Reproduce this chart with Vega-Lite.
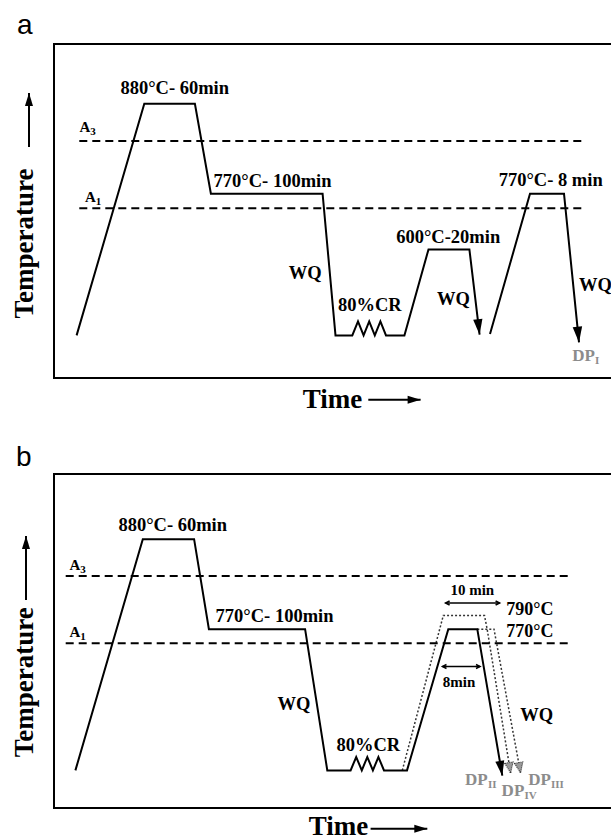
{
  "$schema": "https://vega.github.io/schema/vega-lite/v6.json",
  "padding": {"left": 9, "top": 11, "right": 0, "bottom": 0},
  "spacing": 96,
  "bounds": "flush",
  "config": {
    "view": {"stroke": "black", "strokeWidth": 2},
    "font": "Liberation Serif",
    "text": {"font": "Liberation Serif", "fontWeight": "bold", "color": "black"}
  },
  "datasets": {
    "lines_a": [
      {"p": "main", "i": 0, "t": 22.6, "T": 42.6},
      {"p": "main", "i": 1, "t": 90.3, "T": 274.2},
      {"p": "main", "i": 2, "t": 140.9, "T": 274.2},
      {"p": "main", "i": 3, "t": 156.9, "T": 184.3},
      {"p": "main", "i": 4, "t": 268.6, "T": 184.3},
      {"p": "main", "i": 5, "t": 281.5, "T": 42.6},
      {"p": "main", "i": 6, "t": 298.3, "T": 42.6},
      {"p": "main", "i": 7, "t": 304.0, "T": 56.6},
      {"p": "main", "i": 8, "t": 309.6, "T": 42.6},
      {"p": "main", "i": 9, "t": 315.2, "T": 56.6},
      {"p": "main", "i": 10, "t": 320.8, "T": 42.6},
      {"p": "main", "i": 11, "t": 326.4, "T": 56.6},
      {"p": "main", "i": 12, "t": 332.0, "T": 42.6},
      {"p": "main", "i": 13, "t": 350.4, "T": 42.6},
      {"p": "main", "i": 14, "t": 374.5, "T": 128.6},
      {"p": "main", "i": 15, "t": 415.4, "T": 128.6},
      {"p": "main", "i": 16, "t": 425.6, "T": 43.3},
      {"p": "anneal", "i": 0, "t": 436.0, "T": 44.0},
      {"p": "anneal", "i": 1, "t": 476.0, "T": 184.3},
      {"p": "anneal", "i": 2, "t": 510.0, "T": 184.3},
      {"p": "anneal", "i": 3, "t": 525.0, "T": 35.6}
    ],
    "dash_a": [
      {"name": "A3", "t": 25.3, "t2": 529.4, "T": 237.0},
      {"name": "A1", "t": 25.3, "t2": 529.4, "T": 169.8}
    ],
    "heads_a": [
      {"id": "wq1", "t": 425.6, "T": 43.3},
      {"id": "wq2", "t": 525.0, "T": 35.6}
    ],
    "temp_arrow_a": [{"t": -25.0, "T": 231.0, "T2": 285.0}],
    "time_arrow_a": [{"t": 314.3, "t2": 366.6, "T": -21.7}],
    "text_a": [
      {"role": "step", "txt": "880°C- 60min", "t": 120.7, "T": 284.0},
      {"role": "step", "txt": "WQ", "t": 251.2, "T": 98.7},
      {"role": "step", "txt": "80%CR", "t": 315.8, "T": 67.0},
      {"role": "step", "txt": "600°C-20min", "t": 394.2, "T": 134.6},
      {"role": "step", "txt": "WQ", "t": 399.5, "T": 73.3},
      {"role": "step", "txt": "770°C- 8 min", "t": 496.7, "T": 191.6},
      {"role": "stepL", "txt": "770°C- 100min", "t": 159.6, "T": 191.3},
      {"role": "stepL", "txt": "WQ", "t": 525.0, "T": 86.6},
      {"role": "crit", "txt": "A", "t": 25.6, "T": 245.6},
      {"role": "crit", "txt": "A", "t": 31.1, "T": 176.3},
      {"role": "critsub", "txt": "3", "t": 36.3, "T": 242.6},
      {"role": "critsub", "txt": "1", "t": 41.8, "T": 173.3},
      {"role": "dp", "txt": "DP", "t": 518.3, "T": 16.6},
      {"role": "dpsub", "txt": "I", "t": 541.0, "T": 14.0}
    ],
    "lines_b": [
      {"p": "main", "i": 0, "t": 21.4, "T": 37.6},
      {"p": "main", "i": 1, "t": 88.8, "T": 268.8},
      {"p": "main", "i": 2, "t": 140.1, "T": 268.8},
      {"p": "main", "i": 3, "t": 154.9, "T": 178.8},
      {"p": "main", "i": 4, "t": 251.1, "T": 178.8},
      {"p": "main", "i": 5, "t": 273.3, "T": 37.6},
      {"p": "main", "i": 6, "t": 296.6, "T": 37.6},
      {"p": "main", "i": 7, "t": 302.2, "T": 51.0},
      {"p": "main", "i": 8, "t": 307.8, "T": 37.6},
      {"p": "main", "i": 9, "t": 313.3, "T": 51.0},
      {"p": "main", "i": 10, "t": 318.9, "T": 37.6},
      {"p": "main", "i": 11, "t": 324.4, "T": 51.0},
      {"p": "main", "i": 12, "t": 330.0, "T": 37.6},
      {"p": "main", "i": 13, "t": 353.0, "T": 37.6},
      {"p": "main", "i": 14, "t": 394.3, "T": 178.8},
      {"p": "main", "i": 15, "t": 423.3, "T": 178.8},
      {"p": "main", "i": 16, "t": 448.3, "T": 32.3}
    ],
    "dots_b": [
      {"p": "790", "i": 0, "t": 348.3, "T": 37.6},
      {"p": "790", "i": 1, "t": 389.3, "T": 192.5},
      {"p": "790", "i": 2, "t": 430.5, "T": 192.5},
      {"p": "790", "i": 3, "t": 433.3, "T": 178.0},
      {"p": "790", "i": 4, "t": 456.6, "T": 35.0},
      {"p": "770x10", "i": 0, "t": 423.3, "T": 178.8},
      {"p": "770x10", "i": 1, "t": 440.0, "T": 178.8},
      {"p": "770x10", "i": 2, "t": 466.6, "T": 35.0}
    ],
    "dash_b": [
      {"name": "A3", "t": 11.7, "t2": 515.8, "T": 231.9},
      {"name": "A1", "t": 11.7, "t2": 515.8, "T": 164.7}
    ],
    "spans_b": [
      {"name": "10 min", "t": 391.6, "t2": 445.6, "T": 205.0},
      {"name": "8min", "t": 388.5, "t2": 426.0, "T": 141.5}
    ],
    "heads_b": [
      {"id": "wq", "t": 448.3, "T": 32.3}
    ],
    "hatch_b": [
      {"id": "DPIII", "t": 456.6, "T": 35.0},
      {"id": "DPIV", "t": 466.6, "T": 35.0}
    ],
    "temp_arrow_b": [{"t": -28.0, "T": 208.0, "T2": 272.0}],
    "time_arrow_b": [{"t": 316.6, "t2": 373.3, "T": -20.7}],
    "text_b": [
      {"role": "step", "txt": "880°C- 60min", "t": 118.7, "T": 277.0},
      {"role": "step", "txt": "WQ", "t": 240.0, "T": 98.2},
      {"role": "step", "txt": "80%CR", "t": 314.3, "T": 56.6},
      {"role": "step", "txt": "WQ", "t": 482.8, "T": 86.6},
      {"role": "stepL", "txt": "770°C- 100min", "t": 161.6, "T": 185.6},
      {"role": "temp", "txt": "790°C", "t": 452.3, "T": 192.6},
      {"role": "temp", "txt": "770°C", "t": 452.3, "T": 171.0},
      {"role": "dur", "txt": "10 min", "t": 418.3, "T": 213.3},
      {"role": "dur", "txt": "8min", "t": 405.0, "T": 121.0},
      {"role": "crit", "txt": "A", "t": 15.6, "T": 237.8},
      {"role": "crit", "txt": "A", "t": 15.6, "T": 171.3},
      {"role": "critsub", "txt": "3", "t": 26.3, "T": 234.8},
      {"role": "critsub", "txt": "1", "t": 26.3, "T": 168.3},
      {"role": "dp", "txt": "DP", "t": 411.0, "T": 23.3},
      {"role": "dpsub", "txt": "II", "t": 434.0, "T": 20.5},
      {"role": "dp", "txt": "DP", "t": 447.6, "T": 11.6},
      {"role": "dpsub", "txt": "IV", "t": 470.5, "T": 8.8},
      {"role": "dp", "txt": "DP", "t": 474.3, "T": 23.3},
      {"role": "dpsub", "txt": "III", "t": 497.0, "T": 20.5}
    ]
  },
  "vconcat": [
    {
      "width": 580,
      "height": 334,
      "title": {"text": "a", "anchor": "start", "frame": "group", "font": "Liberation Sans", "fontSize": 28, "fontWeight": "normal", "baseline": "alphabetic", "offset": -18, "dx": -37, "color": "black"},
      "encoding": {
        "x": {"field": "t", "type": "quantitative", "scale": {"domain": [0, 580], "nice": false, "zero": false},
          "axis": {"title": "Time", "labels": false, "ticks": false, "domain": false, "grid": false, "titleFont": "Liberation Serif", "titleFontSize": 27, "titleFontWeight": "bold", "titleColor": "black", "titleX": 248.3, "titleY": 29, "titleAlign": "left", "titleBaseline": "alphabetic"}},
        "y": {"field": "T", "type": "quantitative", "scale": {"domain": [0, 334], "nice": false, "zero": false},
          "axis": {"title": "Temperature", "labels": false, "ticks": false, "domain": false, "grid": false, "titleFont": "Liberation Serif", "titleFontSize": 27, "titleFontWeight": "bold", "titleColor": "black", "titleAngle": 270, "titleX": -21.7, "titleY": 274.1, "titleAlign": "left", "titleBaseline": "alphabetic"}}
      },
      "layer": [
        {"data": {"name": "lines_a"}, "mark": {"type": "line", "color": "black", "strokeWidth": 2, "strokeJoin": "miter"},
         "encoding": {"detail": {"field": "p"}, "order": {"field": "i", "type": "quantitative"}}},
        {"data": {"name": "dash_a"}, "mark": {"type": "rule", "color": "black", "strokeWidth": 2, "strokeDash": [8, 5]},
         "encoding": {"x2": {"field": "t2"}}},
        {"data": {"name": "heads_a"}, "transform": [{"filter": "datum.id == 'wq1'"}],
         "mark": {"type": "point", "shape": "M -0.6 -2 L 0.6 -2 L 0 0 Z", "size": 240, "filled": true, "color": "black", "opacity": 1, "angle": -6.7}},
        {"data": {"name": "heads_a"}, "transform": [{"filter": "datum.id == 'wq2'"}],
         "mark": {"type": "point", "shape": "M -0.6 -2 L 0.6 -2 L 0 0 Z", "size": 250, "filled": true, "color": "black", "opacity": 1, "angle": -5.75}},
        {"data": {"name": "temp_arrow_a"}, "mark": {"type": "rule", "color": "black", "strokeWidth": 2},
         "encoding": {"y2": {"field": "T2"}}},
        {"data": {"name": "temp_arrow_a"}, "mark": {"type": "point", "shape": "M -0.62 2 L 0.62 2 L 0 0 Z", "size": 169, "filled": true, "color": "black", "opacity": 1},
         "encoding": {"y": {"field": "T2", "type": "quantitative"}}},
        {"data": {"name": "time_arrow_a"}, "mark": {"type": "rule", "color": "black", "strokeWidth": 2},
         "encoding": {"x2": {"field": "t2"}}},
        {"data": {"name": "time_arrow_a"}, "mark": {"type": "point", "shape": "M -2 -0.62 L -2 0.62 L 0 0 Z", "size": 169, "filled": true, "color": "black", "opacity": 1},
         "encoding": {"x": {"field": "t2", "type": "quantitative"}}},
        {"data": {"name": "text_a"}, "transform": [{"filter": "datum.role == 'step'"}],
         "mark": {"type": "text", "fontSize": 18.5, "align": "center", "baseline": "alphabetic"}, "encoding": {"text": {"field": "txt"}}},
        {"data": {"name": "text_a"}, "transform": [{"filter": "datum.role == 'stepL'"}],
         "mark": {"type": "text", "fontSize": 18.5, "align": "left", "baseline": "alphabetic"}, "encoding": {"text": {"field": "txt"}}},
        {"data": {"name": "text_a"}, "transform": [{"filter": "datum.role == 'crit'"}],
         "mark": {"type": "text", "fontSize": 15, "align": "left", "baseline": "alphabetic"}, "encoding": {"text": {"field": "txt"}}},
        {"data": {"name": "text_a"}, "transform": [{"filter": "datum.role == 'critsub'"}],
         "mark": {"type": "text", "fontSize": 11, "align": "left", "baseline": "alphabetic"}, "encoding": {"text": {"field": "txt"}}},
        {"data": {"name": "text_a"}, "transform": [{"filter": "datum.role == 'dp'"}],
         "mark": {"type": "text", "fontSize": 17, "align": "left", "baseline": "alphabetic", "color": "#8c8c8c"}, "encoding": {"text": {"field": "txt"}}},
        {"data": {"name": "text_a"}, "transform": [{"filter": "datum.role == 'dpsub'"}],
         "mark": {"type": "text", "fontSize": 11, "align": "left", "baseline": "alphabetic", "color": "#8c8c8c"}, "encoding": {"text": {"field": "txt"}}}
      ]
    },
    {
      "width": 580,
      "height": 334,
      "title": {"text": "b", "anchor": "start", "frame": "group", "font": "Liberation Sans", "fontSize": 28, "fontWeight": "normal", "baseline": "alphabetic", "offset": -20, "dx": -38, "color": "black"},
      "encoding": {
        "x": {"field": "t", "type": "quantitative", "scale": {"domain": [0, 580], "nice": false, "zero": false},
          "axis": {"title": "Time", "labels": false, "ticks": false, "domain": false, "grid": false, "titleFont": "Liberation Serif", "titleFontSize": 27, "titleFontWeight": "bold", "titleColor": "black", "titleX": 254.3, "titleY": 26.7, "titleAlign": "left", "titleBaseline": "alphabetic"}},
        "y": {"field": "T", "type": "quantitative", "scale": {"domain": [0, 334], "nice": false, "zero": false},
          "axis": {"title": "Temperature", "labels": false, "ticks": false, "domain": false, "grid": false, "titleFont": "Liberation Serif", "titleFontSize": 27, "titleFontWeight": "bold", "titleColor": "black", "titleAngle": 270, "titleX": -21.7, "titleY": 282.7, "titleAlign": "left", "titleBaseline": "alphabetic"}}
      },
      "layer": [
        {"data": {"name": "dots_b"}, "mark": {"type": "line", "color": "#333333", "strokeWidth": 1.5, "strokeDash": [2, 2]},
         "encoding": {"detail": {"field": "p"}, "order": {"field": "i", "type": "quantitative"}}},
        {"data": {"name": "lines_b"}, "mark": {"type": "line", "color": "black", "strokeWidth": 2, "strokeJoin": "miter"},
         "encoding": {"detail": {"field": "p"}, "order": {"field": "i", "type": "quantitative"}}},
        {"data": {"name": "dash_b"}, "mark": {"type": "rule", "color": "black", "strokeWidth": 2, "strokeDash": [8, 5]},
         "encoding": {"x2": {"field": "t2"}}},
        {"data": {"name": "spans_b"}, "mark": {"type": "rule", "color": "black", "strokeWidth": 1.5},
         "encoding": {"x2": {"field": "t2"}}},
        {"data": {"name": "spans_b"}, "mark": {"type": "point", "shape": "M 2 -1 L 0 0 L 2 1", "size": 16, "filled": false, "color": "black", "strokeWidth": 1.5, "opacity": 1}},
        {"data": {"name": "spans_b"}, "mark": {"type": "point", "shape": "M -2 -1 L 0 0 L -2 1", "size": 16, "filled": false, "color": "black", "strokeWidth": 1.5, "opacity": 1},
         "encoding": {"x": {"field": "t2", "type": "quantitative"}}},
        {"data": {"name": "heads_b"}, "mark": {"type": "point", "shape": "M -0.6 -2 L 0.6 -2 L 0 0 Z", "size": 225, "filled": true, "color": "black", "opacity": 1, "angle": -9.7}},
        {"data": {"name": "hatch_b"}, "transform": [{"filter": "datum.id == 'DPIII'"}],
         "mark": {"type": "point", "shape": "M -0.8 -2 L 0.8 -2 L 0 0 Z", "size": 110, "filled": true, "fill": "#9a9a9a", "stroke": "#222222", "strokeWidth": 1, "strokeDash": [1, 1], "opacity": 1, "angle": -9.3}},
        {"data": {"name": "hatch_b"}, "transform": [{"filter": "datum.id == 'DPIV'"}],
         "mark": {"type": "point", "shape": "M -0.8 -2 L 0.8 -2 L 0 0 Z", "size": 110, "filled": true, "fill": "#9a9a9a", "stroke": "#222222", "strokeWidth": 1, "strokeDash": [1, 1], "opacity": 1, "angle": -10.5}},
        {"data": {"name": "temp_arrow_b"}, "mark": {"type": "rule", "color": "black", "strokeWidth": 2},
         "encoding": {"y2": {"field": "T2"}}},
        {"data": {"name": "temp_arrow_b"}, "mark": {"type": "point", "shape": "M -0.62 2 L 0.62 2 L 0 0 Z", "size": 169, "filled": true, "color": "black", "opacity": 1},
         "encoding": {"y": {"field": "T2", "type": "quantitative"}}},
        {"data": {"name": "time_arrow_b"}, "mark": {"type": "rule", "color": "black", "strokeWidth": 2},
         "encoding": {"x2": {"field": "t2"}}},
        {"data": {"name": "time_arrow_b"}, "mark": {"type": "point", "shape": "M -2 -0.62 L -2 0.62 L 0 0 Z", "size": 169, "filled": true, "color": "black", "opacity": 1},
         "encoding": {"x": {"field": "t2", "type": "quantitative"}}},
        {"data": {"name": "text_b"}, "transform": [{"filter": "datum.role == 'step'"}],
         "mark": {"type": "text", "fontSize": 18.5, "align": "center", "baseline": "alphabetic"}, "encoding": {"text": {"field": "txt"}}},
        {"data": {"name": "text_b"}, "transform": [{"filter": "datum.role == 'stepL'"}],
         "mark": {"type": "text", "fontSize": 18.5, "align": "left", "baseline": "alphabetic"}, "encoding": {"text": {"field": "txt"}}},
        {"data": {"name": "text_b"}, "transform": [{"filter": "datum.role == 'temp'"}],
         "mark": {"type": "text", "fontSize": 18, "align": "left", "baseline": "alphabetic"}, "encoding": {"text": {"field": "txt"}}},
        {"data": {"name": "text_b"}, "transform": [{"filter": "datum.role == 'dur'"}],
         "mark": {"type": "text", "fontSize": 15, "align": "center", "baseline": "alphabetic"}, "encoding": {"text": {"field": "txt"}}},
        {"data": {"name": "text_b"}, "transform": [{"filter": "datum.role == 'crit'"}],
         "mark": {"type": "text", "fontSize": 15, "align": "left", "baseline": "alphabetic"}, "encoding": {"text": {"field": "txt"}}},
        {"data": {"name": "text_b"}, "transform": [{"filter": "datum.role == 'critsub'"}],
         "mark": {"type": "text", "fontSize": 11, "align": "left", "baseline": "alphabetic"}, "encoding": {"text": {"field": "txt"}}},
        {"data": {"name": "text_b"}, "transform": [{"filter": "datum.role == 'dp'"}],
         "mark": {"type": "text", "fontSize": 17, "align": "left", "baseline": "alphabetic", "color": "#8c8c8c"}, "encoding": {"text": {"field": "txt"}}},
        {"data": {"name": "text_b"}, "transform": [{"filter": "datum.role == 'dpsub'"}],
         "mark": {"type": "text", "fontSize": 11, "align": "left", "baseline": "alphabetic", "color": "#8c8c8c"}, "encoding": {"text": {"field": "txt"}}}
      ]
    }
  ]
}
